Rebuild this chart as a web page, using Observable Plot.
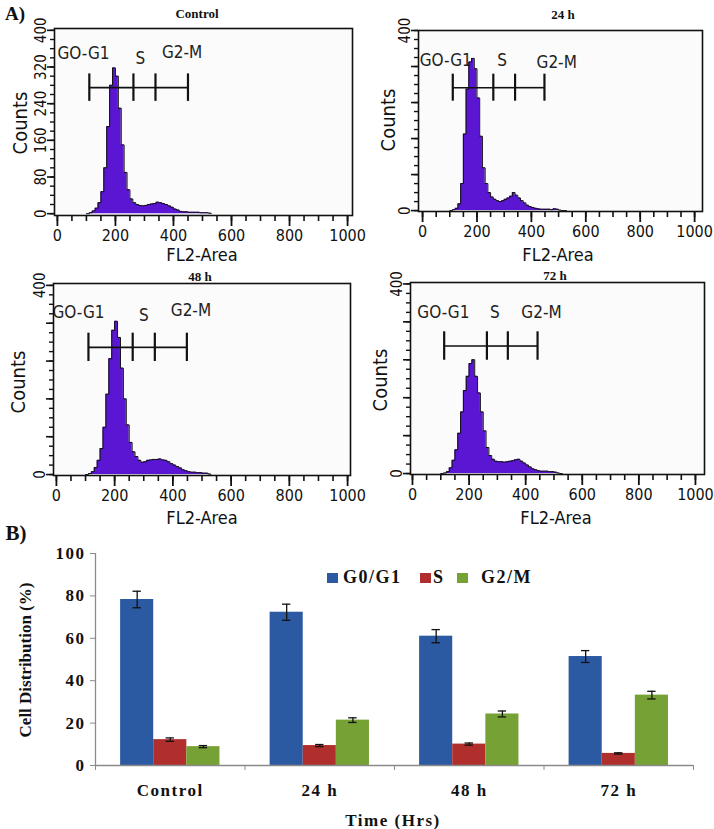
<!DOCTYPE html>
<html><head><meta charset="utf-8">
<script src="https://cdn.jsdelivr.net/npm/d3@7"></script>
<script src="https://cdn.jsdelivr.net/npm/@observablehq/plot@0.6"></script>
<style>
html,body{margin:0;padding:0;background:#fff;}
#page{position:relative;width:714px;height:829px;overflow:hidden;background:#fff;}
.abs{position:absolute;}
.c{position:absolute;transform:translate(-50%,-50%);white-space:nowrap;line-height:1;}
.r{position:absolute;transform:translate(-50%,-50%) rotate(-90deg);white-space:nowrap;line-height:1;}
.ttl{font:bold 13px "Liberation Serif","Times New Roman",serif;color:#111;}
.narrow{font-family:"Liberation Sans Narrow","Arial Narrow","DejaVu Sans Condensed",sans-serif;color:#111;}
.serifb{font-family:"Liberation Serif","Times New Roman",serif;font-weight:bold;color:#111;}
.sw{position:absolute;width:11px;height:10px;}
</style>
</head><body>
<div id="page"></div>
<script>
// ---------- Panel A: DNA histograms ----------
const binStarts = [100,110,120,130,140,150,160,170,180,190,200,210,220,230,240,250,260,270,280,290,300,310,320,330,340,350,360,370,380,390,400,410,420,430,440,450,460,470,480,490,500,510,520,530];
const countsControl = [0,2,6,12,24,48,100,190,280,318,300,230,150,90,52,32,24,20,18,17,18,20,21,22,25,24,22,20,17,14,10,8,5,4,4,3,3,3,3,2,2,2,1,0];
const counts24h = [0,2,5,15,60,170,270,330,338,315,250,165,95,60,40,30,25,22,20,22,25,28,32,40,34,28,22,17,12,9,7,5,4,3,3,3,3,2,4,3,1,0,0,0];
const counts48h = [0,2,6,15,30,55,100,170,245,305,324,290,225,160,105,68,48,38,30,26,27,30,31,32,32,33,31,30,27,23,20,17,14,10,8,6,5,5,4,4,3,3,1,0];
const counts72h = [0,1,4,12,28,50,85,130,175,205,232,240,205,170,130,90,55,38,30,26,25,25,24,25,26,27,29,30,26,22,18,14,10,8,6,5,5,5,4,4,3,1,0,0];

const gateNames = ["GO-G1","S","G2-M"];
const gatesControl = [110,262,338,450];
const gates24h = [111,260,340,448];
const gates48h = [110,262,338,448];
const gates72h = [112,263,337,442];
const gateLevels = [275,273,269,269];
const gateLabelXControl = [90,286,430], gateLabelYControl = [350,338,352];
const gateLabelX24h = [85,292,493], gateLabelY24h = [333,333,329];
const gateLabelX48h = [76,300,462], gateLabelY48h = [343,336,347];
const gateLabelX72h = [109,291,456], gateLabelY72h = [339,339,339];

const panelTitles = ["Control","24 h","48 h","72 h"];
const xMajor = [0,200,400,600,800,1000];
const xMinor = [0,50,100,150,200,250,300,350,400,450,500,550,600,650,700,750,800,850,900,950,1000];
const yMajor = [0,80,160,240,320,400];
const yMinor = [0,20,40,60,80,100,120,140,160,180,200,220,240,260,280,300,320,340,360,380,400];

// ---------- Panel B: bar chart ----------
const categories = ["Control","24 h","48 h","72 h"];
const phases = ["G0/G1","S","G2/M"];
const phaseColors = ["#2b5aa3","#b02e2b","#76a134"];
const g0g1 = [78.3,72.3,61.0,51.4];
const sPhase = [12.2,9.4,10.1,5.7];
const g2m = [8.9,21.4,24.3,33.2];
const errG0g1 = [3.9,3.8,3.1,2.8];
const errS = [0.8,0.5,0.5,0.3];
const errG2m = [0.5,1.1,1.4,1.8];
const yTicksB = [0,20,40,60,80,100];

const NARROW = '"Liberation Sans Narrow","Arial Narrow","DejaVu Sans Condensed",sans-serif';
const SERIF = '"Liberation Serif","Times New Roman",serif';
const page = document.getElementById("page");

function place(el, left, top) {
  const d = document.createElement("div");
  d.className = "abs"; d.style.left = left + "px"; d.style.top = top + "px";
  d.appendChild(el); page.appendChild(d);
}
function addText(txt, x, y, cls, size, rotate, extra) {
  const d = document.createElement("div");
  d.className = (rotate ? "r " : "c ") + cls;
  d.textContent = txt;
  d.style.left = x + "px"; d.style.top = y + "px";
  if (size) d.style.fontSize = size + "px";
  if (extra) Object.assign(d.style, extra);
  page.appendChild(d);
}

const panels = [
  {counts: countsControl, gates: gatesControl, level: gateLevels[0], lx: gateLabelXControl, ly: gateLabelYControl,
   left: 0, top: 0, width: 360, height: 265, m: [28, 8, 50, 54], xd: [-10, 1017], yd: [-4, 404], yLab: yMajor},
  {counts: counts24h, gates: gates24h, level: gateLevels[1], lx: gateLabelX24h, ly: gateLabelY24h,
   left: 355, top: 0, width: 359, height: 265, m: [30, 12, 54, 63], xd: [-15, 1029], yd: [-2, 400], yLab: [0, 400]},
  {counts: counts48h, gates: gates48h, level: gateLevels[2], lx: gateLabelX48h, ly: gateLabelY48h,
   left: 0, top: 258, width: 360, height: 270, m: [25, 10, 53, 53], xd: [-10, 1010], yd: [-2, 404], yLab: [0, 400]},
  {counts: counts72h, gates: gates72h, level: gateLevels[3], lx: gateLabelX72h, ly: gateLabelY72h,
   left: 355, top: 258, width: 359, height: 270, m: [24, 10, 54, 55], xd: [-7, 1032], yd: [-2, 403], yLab: [0, 400]}
];

panels.forEach(p => {
  const data = binStarts.map((x, i) => ({x, count: p.counts[i]}));
  const segs = p.gates.slice(0, -1).map((g, i) => ({x1: g, x2: p.gates[i + 1], y: p.level}));
  const ticks = p.gates.map(g => ({x: g, y1: p.level - 30, y2: p.level + 30}));
  const labels = gateNames.map((t, i) => ({t, x: p.lx[i], y: p.ly[i]}));
  const svg = Plot.plot({
    width: p.width, height: p.height,
    marginTop: p.m[0], marginRight: p.m[1], marginBottom: p.m[2], marginLeft: p.m[3],
    x: {domain: p.xd, label: null},
    y: {domain: p.yd, label: null},
    style: {fontFamily: NARROW, fontSize: "16px", color: "#111", background: "transparent", overflow: "visible"},
    marks: [
      Plot.frame({fill: "#fbfbfb", stroke: null}),
      Plot.areaY(data, {x: "x", y: "count", curve: "step-after", fill: "#5a16d2"}),
      Plot.lineY(data, {x: "x", y: "count", curve: "step-after", stroke: "#111", strokeWidth: 1}),
      Plot.ruleY(segs, {x1: "x1", x2: "x2", y: "y", stroke: "#111", strokeWidth: 1.6}),
      Plot.ruleX(ticks, {x: "x", y1: "y1", y2: "y2", stroke: "#111", strokeWidth: 2.2}),
      Plot.text(labels, {x: "x", y: "y", text: "t", fontSize: 17, fill: "#222"}),
      Plot.axisX(xMinor, {tickSize: 6, tickFormat: () => "", strokeWidth: 1.6, label: null}),
      Plot.axisX(xMajor, {tickSize: 11, tickPadding: 3, strokeWidth: 1.8, fontSize: 16, label: null, tickFormat: d => String(d)}),
      Plot.axisY(yMinor, {tickSize: 4, tickFormat: () => "", strokeWidth: 1.4, label: null}),
      Plot.axisY(yMajor, {tickSize: 7, tickPadding: 2, tickRotate: -90, strokeWidth: 1.6, fontSize: 15, label: null,
        tickFormat: d => p.yLab.includes(d) ? String(d) : ""}),
      Plot.frame({stroke: "#111", strokeWidth: 1.6})
    ]
  });
  place(svg, p.left, p.top);
});

// titles and axis labels of panel A
addText("A)", 15, 13, "serifb", 19);
addText(panelTitles[0], 197, 14, "ttl");
addText(panelTitles[1], 563, 15, "ttl");
addText(panelTitles[2], 200, 277, "ttl");
addText(panelTitles[3], 555, 276, "ttl");
[[20,123],[388,120],[18,382],[380,380]].forEach(([x,y]) => addText("Counts", x, y, "narrow", 20, true));
[[202,255],[558,255],[202,518],[556,518]].forEach(([x,y]) => addText("FL2-Area", x, y, "narrow", 18));

// ---------- bar chart ----------
const groupPad = 0.168, barFrac = 0.2215, cap = 0.028;
const series = [g0g1, sPhase, g2m];
const errs = [errG0g1, errS, errG2m];
const barData = [];
categories.forEach((c, ci) => phases.forEach((ph, pj) => {
  const x1 = ci + groupPad + pj * barFrac;
  barData.push({cat: c, phase: ph, value: series[pj][ci], err: errs[pj][ci], x1, x2: x1 + barFrac, xc: x1 + barFrac / 2});
}));
const boundaries = categories.map((c, i) => i).concat([categories.length]);
const centers = categories.map((c, i) => i + 0.5);

const bar = Plot.plot({
  width: 714, height: 289,
  marginLeft: 95, marginRight: 21, marginTop: 13, marginBottom: 64,
  x: {domain: [0, categories.length], label: null},
  y: {domain: [0, 100], label: null},
  color: {domain: phases, range: phaseColors},
  style: {fontFamily: SERIF, fontWeight: "bold", fontSize: "17px", letterSpacing: "1.5px", color: "#111", background: "transparent", overflow: "visible"},
  marks: [
    Plot.rect(barData, {x1: "x1", x2: "x2", y1: () => 0, y2: "value", fill: "phase"}),
    Plot.ruleX(barData, {x: "xc", y1: d => d.value - d.err, y2: d => d.value + d.err, stroke: "#111", strokeWidth: 1.3}),
    Plot.ruleY(barData, {x1: d => d.xc - cap, x2: d => d.xc + cap, y: d => d.value + d.err, stroke: "#111", strokeWidth: 1.3}),
    Plot.ruleY(barData, {x1: d => d.xc - cap, x2: d => d.xc + cap, y: d => d.value - d.err, stroke: "#111", strokeWidth: 1.3}),
    Plot.ruleY([0], {stroke: "#8a8a8a", strokeWidth: 1.3}),
    Plot.ruleX([0], {stroke: "#8a8a8a", strokeWidth: 1.3}),
    Plot.axisY(yTicksB, {tickSize: 5, tickPadding: 5, stroke: "#8a8a8a", label: null}),
    Plot.axisX(boundaries, {tickSize: 5, tickFormat: () => "", stroke: "#8a8a8a", label: null}),
    Plot.axisX(centers, {tickSize: 0, tickPadding: 18, tickFormat: d => categories[Math.floor(d)], label: null})
  ]
});
place(bar, 0, 540);

addText("B)", 16, 533, "serifb", 21);
addText("Cell Distribution (%)", 25, 660, "serifb", 17, true);
addText("Time (Hrs)", 393, 820, "serifb", 17, false, {letterSpacing: "1.5px"});

// legend
const legendItems = [[327, 343], [420, 433], [457, 481]];
phases.forEach((ph, i) => {
  const s = document.createElement("div");
  s.className = "sw"; s.style.background = phaseColors[i];
  s.style.left = legendItems[i][0] + "px"; s.style.top = "573px";
  page.appendChild(s);
  const t = document.createElement("div");
  t.className = "abs serifb"; t.textContent = ph;
  t.style.left = legendItems[i][1] + "px"; t.style.top = "568px";
  t.style.fontSize = "18px"; t.style.letterSpacing = "1.5px"; t.style.lineHeight = "1";
  page.appendChild(t);
});
</script>
</body></html>
